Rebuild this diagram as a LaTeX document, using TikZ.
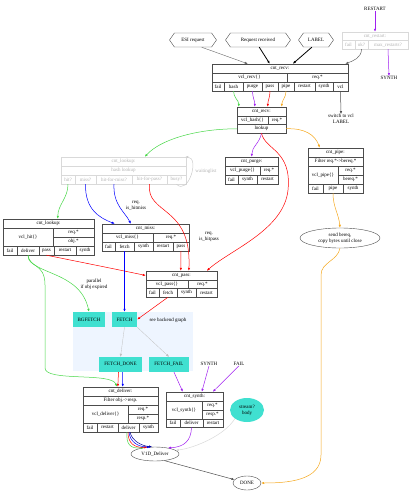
\documentclass[tikz,border=0pt]{standalone}
\usepackage{fontspec}
\setmainfont{Liberation Serif}
\usetikzlibrary{arrows.meta,shapes.geometric,shapes.symbols}

\definecolor{fsmgreen}{RGB}{70,215,70}
\definecolor{fsmpurple}{RGB}{160,32,240}
\definecolor{fsmorange}{RGB}{245,168,30}
\definecolor{fsmturq}{RGB}{64,224,208}
\definecolor{fsmcluster}{RGB}{238,245,255}

\newcommand{\fsmfont}{\fontsize{5}{5.8}\selectfont}
\newcommand{\fsmcell}[7][cell]{\node[#1,minimum width={(#5-#3)*1pt},minimum height={(#6-#4)*1pt}] (#2) at ({(#3+#5)/2},{(#4+#6)/2}) {#7};}

\tikzset{
  cell/.style={draw=black!70,line width=0.4pt,inner sep=0pt,font=\fsmfont},
  ghost/.style={cell,draw=black!15,text=black!30},
  turq/.style={fill=fsmturq,inner sep=0pt,font=\fsmfont},
  hexa/.style={shape=signal,signal to=west and east,signal pointer angle=110,draw=black!70,line width=0.4pt,minimum height=14pt,inner sep=1pt,font=\fsmfont},
  oval/.style={ellipse,draw=black!70,line width=0.4pt,inner sep=0pt,align=center,font=\fsmfont},
  lbl/.style={inner sep=0pt,align=center,font=\fsmfont},
  edge/.style={-{Latex[length=3pt,width=2.4pt]},line width=0.5pt}
}

\begin{document}
\begin{tikzpicture}[x=1pt,y=-1pt]
\useasboundingbox (0,0) rectangle (418,500);

\fill[fsmcluster] (73,312) rectangle (193,371);

\node[lbl] (restart) at (375,9) {RESTART};
\fsmcell[ghost]{rsttitle}{342}{32}{408}{40.5}{cnt\_restart:}
\fsmcell[ghost]{rstfail}{342}{40.5}{355}{49}{fail}
\fsmcell[ghost]{rstok}{355}{40.5}{368}{49}{ok?}
\fsmcell[ghost]{rstmax}{368}{40.5}{408}{49}{max\_restarts?}
\node[lbl] (synthtop) at (389,78) {SYNTH};

\node[hexa,minimum width=47pt] (esi) at (193,40) {ESI request};
\node[hexa,minimum width=65pt] (reqrecv) at (258,40) {Request received};
\node[hexa,minimum width=35pt] (label) at (316,40) {LABEL};

\fsmcell{recvtitle}{212}{64}{348}{73}{cnt\_recv:}
\fsmcell{recvvcl}{212}{73}{287}{82}{vcl\_recv\{\}}
\fsmcell{recvreq}{287}{73}{348}{82}{req.*}
\fsmcell{recvfail}{212}{82}{224}{91}{fail}
\fsmcell{recvhash}{224}{82}{243}{91}{hash}
\fsmcell{recvpurge}{243}{82}{262}{91}{purge}
\fsmcell{recvpass}{262}{82}{278}{91}{pass}
\fsmcell{recvpipe}{278}{82}{294}{91}{pipe}
\fsmcell{recvrestart}{294}{82}{315}{91}{restart}
\fsmcell{recvsynth}{315}{82}{333}{91}{synth}
\fsmcell{recvvclp}{333}{82}{348}{91}{vcl}
\node[lbl] (switch) at (341,119) {switch to vcl\\LABEL};

\fsmcell{hashtitle}{237}{107}{286}{116}{cnt\_recv:}
\fsmcell{hashvcl}{237}{116}{268}{124.5}{vcl\_hash\{\}}
\fsmcell{hashreq}{268}{116}{286}{124.5}{req.*}
\fsmcell{hashlookup}{237}{124.5}{286}{133}{lookup}

\fsmcell[ghost]{lktitle}{61}{157}{186}{166}{cnt\_lookup:}
\fsmcell[ghost]{lkhash}{61}{166}{186}{175}{hash lookup}
\fsmcell[ghost]{lkhit}{61}{175}{75}{184}{hit?}
\fsmcell[ghost]{lkmiss}{75}{175}{96}{184}{miss?}
\fsmcell[ghost]{lkhfm}{96}{175}{132}{184}{hit-for-miss?}
\fsmcell[ghost]{lkhfp}{132}{175}{167}{184}{hit-for-pass?}
\fsmcell[ghost]{lkbusy}{167}{175}{186}{184}{busy?}
\node[lbl,text=black!30] (waitinglist) at (206,171) {waitinglist};

\fsmcell{prgtitle}{225}{157}{278}{166}{cnt\_purge:}
\fsmcell{prgvcl}{225}{166}{260}{175}{vcl\_purge\{\}}
\fsmcell{prgreq}{260}{166}{278}{175}{req.*}
\fsmcell{prgfail}{225}{175}{238}{184}{fail}
\fsmcell{prgsynth}{238}{175}{257}{184}{synth}
\fsmcell{prgrestart}{257}{175}{278}{184}{restart}

\fsmcell{pptitle}{308}{148}{363}{157}{cnt\_pipe:}
\fsmcell{ppfilter}{308}{157}{363}{166}{Filter req.*->bereq.*}
\fsmcell{ppvcl}{308}{166}{338}{184}{vcl\_pipe\{\}}
\fsmcell{ppreq}{338}{166}{363}{175}{req.*}
\fsmcell{ppbereq}{338}{175}{363}{184}{bereq.*}
\fsmcell{ppfail}{308}{184}{323}{193}{fail}
\fsmcell{pppipe}{323}{184}{343}{193}{pipe}
\fsmcell{ppsynth}{343}{184}{363}{193}{synth}
\node[oval,minimum width=80pt,minimum height=20pt] (sendbereq) at (340,238) {send bereq,\\copy bytes until close};

\fsmcell{hittitle}{3}{219}{94}{228}{cnt\_lookup:}
\fsmcell{hitvcl}{3}{228}{53}{246}{vcl\_hit\{\}}
\fsmcell{hitreq}{53}{228}{94}{237}{req.*}
\fsmcell{hitobj}{53}{237}{94}{246}{obj.*}
\fsmcell{hitfail}{3}{246}{17}{255}{fail}
\fsmcell{hitdeliver}{17}{246}{39}{255}{deliver}
\fsmcell{hitpass}{39}{246}{54}{255}{pass}
\fsmcell{hitrestart}{54}{246}{76}{255}{restart}
\fsmcell{hitsynth}{76}{246}{94}{255}{synth}

\fsmcell{msstitle}{102}{224}{189}{233}{cnt\_miss:}
\fsmcell{mssvcl}{102}{233}{153}{242}{vcl\_miss\{\}}
\fsmcell{mssreq}{153}{233}{189}{242}{req.*}
\fsmcell{mssfail}{102}{242}{115}{251}{fail}
\fsmcell{mssfetch}{115}{242}{134}{251}{fetch}
\fsmcell{msssynth}{134}{242}{153}{251}{synth}
\fsmcell{mssrestart}{153}{242}{173}{251}{restart}
\fsmcell{msspass}{173}{242}{189}{251}{pass}
\node[lbl] (reqhitmiss) at (136,206) {req.\\is\_hitmiss};

\fsmcell{pstitle}{146}{271}{217}{280}{cnt\_pass:}
\fsmcell{psvcl}{146}{280}{188}{288.5}{vcl\_pass\{\}}
\fsmcell{psreq}{188}{280}{217}{288.5}{req.*}
\fsmcell{psfail}{146}{288.5}{159}{297}{fail}
\fsmcell{psfetch}{159}{288.5}{177}{297}{fetch}
\fsmcell{pssynth}{177}{288.5}{196}{297}{synth}
\fsmcell{psrestart}{196}{288.5}{217}{297}{restart}
\node[lbl] (reqhitpass) at (209,237) {req.\\is\_hitpass};
\node[lbl] (parallel) at (94,284) {parallel\\if obj expired};

\fsmcell[turq]{bgfetch}{73}{312}{105}{327}{BGFETCH}
\fsmcell[turq]{fetch}{112}{312}{137}{327}{FETCH}
\node[lbl] (backend) at (168,320) {see backend graph};
\fsmcell[turq]{fetchdone}{99}{357}{142}{372}{FETCH\_DONE}
\fsmcell[turq]{fetchfail}{149}{357}{189}{372}{FETCH\_FAIL}
\node[lbl] (synthb) at (209,364) {SYNTH};
\node[lbl] (failb) at (239,364) {FAIL};

\fsmcell{dltitle}{83}{387}{158}{396}{cnt\_deliver:}
\fsmcell{dlfilter}{83}{396}{158}{405}{Filter obj.->resp.}
\fsmcell{dlvcl}{83}{405}{128}{423}{vcl\_deliver\{\}}
\fsmcell{dlreq}{128}{405}{158}{414}{req.*}
\fsmcell{dlresp}{128}{414}{158}{423}{resp.*}
\fsmcell{dlfail}{83}{423}{97}{432}{fail}
\fsmcell{dlrestart}{97}{423}{118}{432}{restart}
\fsmcell{dldeliver}{118}{423}{139}{432}{deliver}
\fsmcell{dlsynth}{139}{423}{158}{432}{synth}

\fsmcell{sytitle}{166}{392}{223}{401}{cnt\_synth:}
\fsmcell{syvcl}{166}{401}{202}{419}{vcl\_synth\{\}}
\fsmcell{syreq}{202}{401}{223}{410}{req.*}
\fsmcell{syresp}{202}{410}{223}{419}{resp.*}
\fsmcell{syfail}{166}{419}{180}{427.5}{fail}
\fsmcell{sydeliver}{180}{419}{203}{427.5}{deliver}
\fsmcell{syrestart}{203}{419}{223}{427.5}{restart}

\node[ellipse,fill=fsmturq,minimum width=34pt,minimum height=24pt,inner sep=0pt,align=center,font=\fsmfont] (stream) at (247,410) {stream?\\body};
\node[oval,minimum width=48pt,minimum height=14pt] (v1d) at (155,454) {V1D\_Deliver};
\node[oval,minimum width=28pt,minimum height=14pt] (done) at (247,483) {DONE};

\draw[edge,fsmpurple] (restart) -- (rsttitle);
\draw[edge,fsmpurple] (rstmax.south) -- (synthtop.north);
\draw[edge,black!60] (rstok.south) to[out=-90,in=20] ([xshift=-3pt]recvtitle.north east);
\draw[edge,black!60,line width=0.4pt] (esi.-40) -- ([xshift=36pt]recvtitle.north west);
\draw[edge,line width=0.8pt] (reqrecv.-80) -- ([xshift=58pt]recvtitle.north west);
\draw[edge,line width=0.8pt] (label.-120) -- ([xshift=81pt]recvtitle.north west);

\draw[edge,fsmgreen] (recvhash.south) to[out=-90,in=90] ([xshift=2pt]hashtitle.north west);
\draw[edge,fsmpurple] (recvpurge.south) to[out=-90,in=90] ([xshift=18pt]hashtitle.north west);
\draw[edge,red] (recvpass.south) to[out=-90,in=90] ([xshift=31pt]hashtitle.north west);
\draw[edge,fsmorange] (recvpipe.south) to[out=-90,in=90] ([xshift=45pt]hashtitle.north west);
\draw[edge,black!70] (recvvclp.south) -- (switch.north);

\draw[edge,fsmgreen] (hashlookup.west) .. controls (195,129) and (160,140) .. ([xshift=84pt]lktitle.north west);
\draw[edge,fsmpurple] (hashlookup.south) to[out=-100,in=90] ([xshift=27pt]prgtitle.north west);
\draw[edge,red] (hashlookup.south) .. controls (265,150) and (292,150) .. (288,190) .. controls (284,230) and (230,250) .. ([xshift=61pt]pstitle.north west);
\draw[edge,fsmorange] (hashlookup.east) .. controls (305,128) and (315,135) .. ([xshift=12pt]pptitle.north west);

\draw[edge,fsmorange] (pppipe.south) to[out=-90,in=95] (sendbereq.north);
\draw[edge,fsmorange] (sendbereq.south) to[out=-100,in=90] (321,275) -- (321,455) to[out=-90,in=0] (done.east);

\draw[edge,black!20] (lkbusy.south) .. controls (188,196) and (200,158) .. ([xshift=-1pt]lktitle.north east);
\draw[edge,fsmgreen] (lkhit.south) to[out=-90,in=90] ([xshift=55pt]hittitle.north west);
\draw[edge,blue] (lkmiss.south) .. controls (85,210) and (100,218) .. ([xshift=13pt]msstitle.north west);
\draw[edge,blue] (lkhfm.south) .. controls (113,205) and (125,212) .. ([xshift=29pt]msstitle.north west);
\draw[edge,red] (lkhfp.south) .. controls (146,215) and (192,205) .. ([xshift=43pt]pstitle.north west);

\draw[edge,red] (hitpass.south) .. controls (80,262) and (120,270) .. (pstitle.west);
\draw[edge,fsmgreen] (hitdeliver.south) .. controls (30,275) and (80,270) .. (bgfetch.north);
\draw[edge,fsmgreen] (hitdeliver.south) .. controls (28,268) and (45,262) .. (45,285) -- (45,368) .. controls (45,382) and (112,372) .. ([xshift=34pt]dltitle.north west);

\draw[edge,red] (msspass.south) -- ([xshift=35pt]pstitle.north west);
\draw[edge,blue] (mssfetch.south) -- (fetch.north);
\draw[edge,red] (psfetch.south) -- (fetch.east);

\draw[edge,black!25,line width=0.3pt] (fetch.south) -- (fetchdone.north);
\draw[edge,black!25,line width=0.3pt] (fetch.south east) -- (fetchfail.north);
\draw[edge,red] ([xshift=-2pt]fetchdone.south) -- ([xshift=35pt]dltitle.north west);
\draw[edge,blue] ([xshift=2pt]fetchdone.south) -- ([xshift=40pt]dltitle.north west);

\draw[edge,fsmpurple] ([xshift=5pt]fetchfail.south) -- ([xshift=17pt]sytitle.north west);
\draw[edge,fsmpurple] (synthb.south) -- ([xshift=36pt]sytitle.north west);
\draw[edge,fsmpurple] (failb.south) -- ([xshift=47pt]sytitle.north west);

\draw[edge,fsmgreen] ([xshift=-1.5pt]dldeliver.south) .. controls (126,444) and (130,449) .. (v1d.150);
\draw[edge,red] ([xshift=-0.5pt]dldeliver.south) .. controls (128,443) and (134,448) .. (v1d.138);
\draw[edge,blue] ([xshift=0.5pt]dldeliver.south) .. controls (130,442) and (138,447) .. (v1d.124);
\draw[edge,blue!60!black] ([xshift=1.5pt]dldeliver.south) .. controls (132,441) and (142,446) .. (v1d.112);
\draw[edge,fsmpurple] (sydeliver.south) .. controls (191,440) and (185,447) .. (v1d.25);
\draw[edge,black!15] (stream.south west) .. controls (225,435) and (195,448) .. (v1d.10);
\draw[edge,black!70] (v1d.-35) -- (done.165);
\end{tikzpicture}
\end{document}
